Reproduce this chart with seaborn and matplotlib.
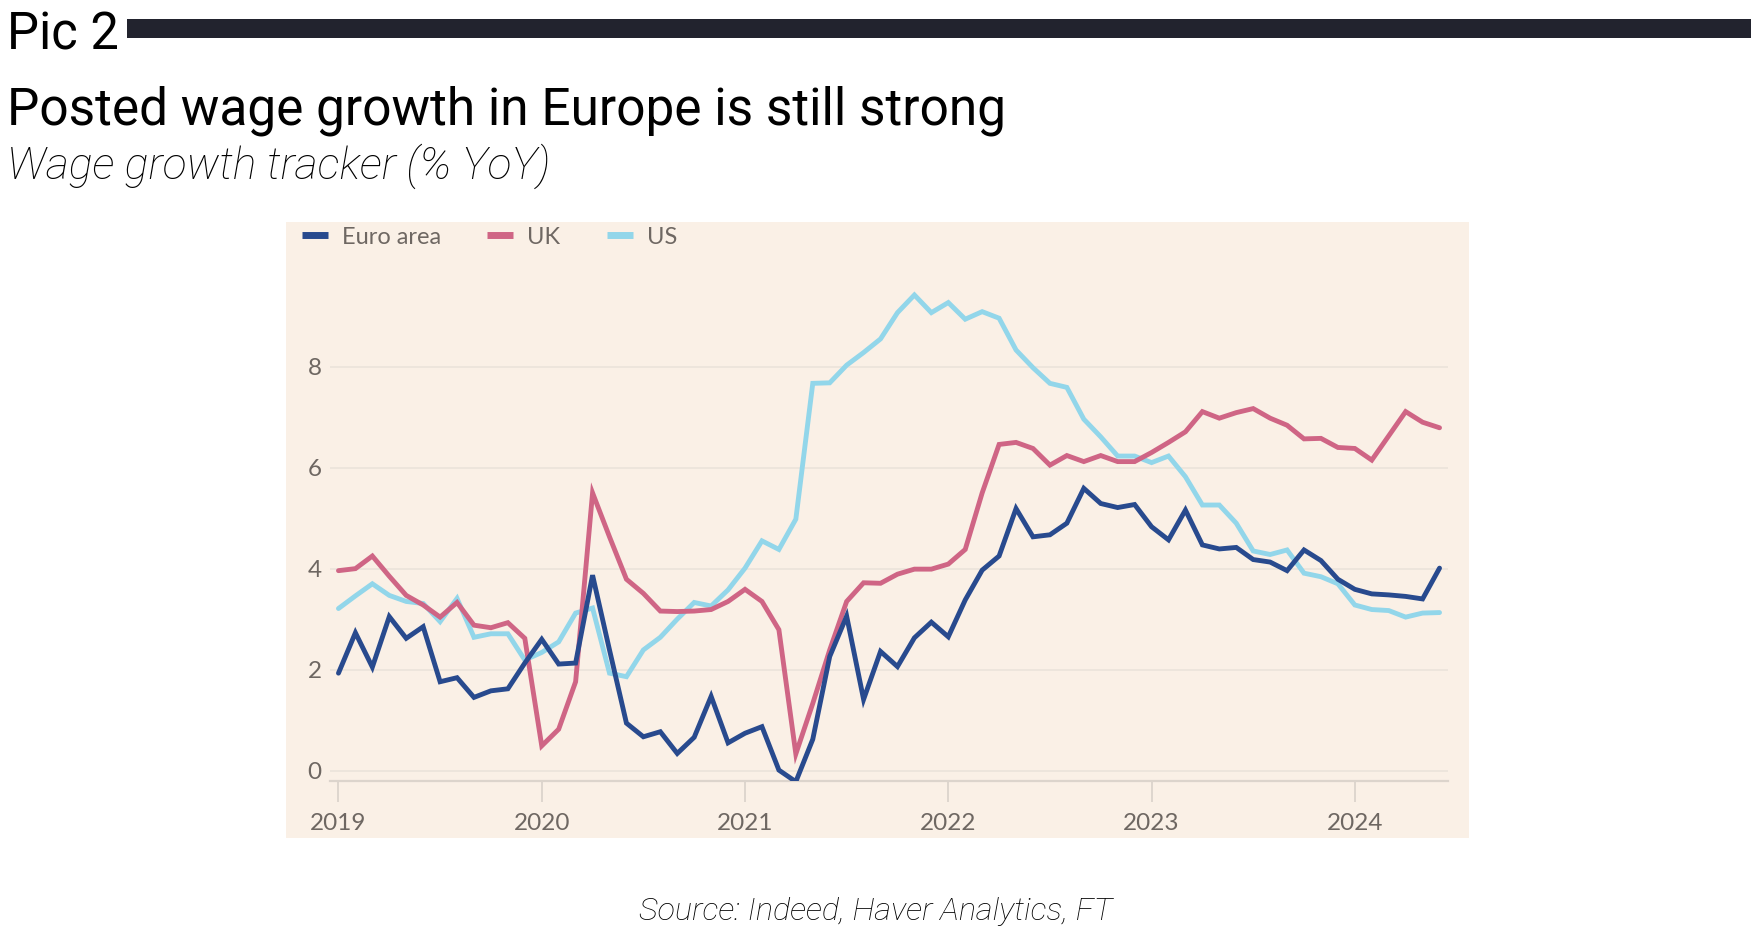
import numpy as np
import pandas as pd
import matplotlib
matplotlib.use("Agg")
import matplotlib.pyplot as plt
from matplotlib.patches import Rectangle
import seaborn as sns

# ---------------- data ----------------
start_year = 2019
n_months = 66  # Jan 2019 .. Jun 2024
year_ticks = [2019, 2020, 2021, 2022, 2023, 2024]
year_labels = ["2019", "2020", "2021", "2022", "2023", "2024"]
y_ticks = [0, 2, 4, 6, 8]
y_labels = ["0", "2", "4", "6", "8"]
series_names = ["Euro area", "UK", "US"]

euro_area = [1.93, 2.73, 2.05, 3.05, 2.62, 2.85, 1.76, 1.84, 1.45, 1.58, 1.62, 2.13,
             2.60, 2.11, 2.13, 3.87, 2.39, 0.94, 0.67, 0.77, 0.34, 0.66, 1.47, 0.55,
             0.74, 0.87, 0.01, -0.22, 0.62, 2.26, 3.06, 1.41, 2.36, 2.06, 2.63, 2.94,
             2.65, 3.38, 3.97, 4.25, 5.19, 4.63, 4.67, 4.90, 5.59, 5.29, 5.21, 5.27,
             4.83, 4.57, 5.16, 4.47, 4.39, 4.42, 4.18, 4.13, 3.96, 4.37, 4.16, 3.79,
             3.59, 3.50, 3.48, 3.45, 3.40, 4.01]
uk = [3.96, 4.00, 4.25, 3.85, 3.47, 3.28, 3.04, 3.33, 2.88, 2.83, 2.93, 2.62,
      0.49, 0.82, 1.76, 5.50, 4.63, 3.79, 3.51, 3.16, 3.15, 3.16, 3.19, 3.35,
      3.59, 3.35, 2.79, 0.33, 1.33, 2.39, 3.35, 3.72, 3.71, 3.89, 3.99, 3.99,
      4.09, 4.38, 5.50, 6.46, 6.50, 6.38, 6.05, 6.24, 6.12, 6.24, 6.12, 6.12,
      6.30, 6.50, 6.71, 7.11, 6.98, 7.09, 7.17, 6.98, 6.84, 6.57, 6.58, 6.40,
      6.38, 6.15, 6.63, 7.11, 6.90, 6.79]
us = [3.21, 3.46, 3.70, 3.47, 3.35, 3.31, 2.95, 3.41, 2.64, 2.71, 2.71, 2.19,
      2.34, 2.55, 3.12, 3.22, 1.93, 1.86, 2.39, 2.64, 3.00, 3.33, 3.26, 3.58,
      4.01, 4.55, 4.38, 4.98, 7.67, 7.68, 8.03, 8.28, 8.55, 9.07, 9.42, 9.07,
      9.27, 8.94, 9.09, 8.96, 8.33, 7.98, 7.67, 7.59, 6.96, 6.61, 6.23, 6.23,
      6.10, 6.23, 5.82, 5.26, 5.26, 4.90, 4.35, 4.28, 4.37, 3.91, 3.84, 3.70,
      3.28, 3.19, 3.17, 3.04, 3.12, 3.13]

months = np.arange(n_months)
t = start_year + months / 12.0
df = pd.DataFrame({
    "t": np.concatenate([t, t, t]),
    "value": euro_area + uk + us,
    "series": ["Euro area"] * n_months + ["UK"] * n_months + ["US"] * n_months,
})

# ---------------- style ----------------
sns.set_theme(style="white")
plt.rcParams["font.family"] = ["Roboto", "DejaVu Sans"]

W, H = 1756, 940
fig = plt.figure(figsize=(W / 100, H / 100), dpi=100)
fig.patch.set_facecolor("white")

def fx(px):
    return px / W

def fy(py):
    return 1 - py / H

# beige panel
fig.patches.append(Rectangle((fx(286), fy(838)), fx(1469) - fx(286), fy(222) - fy(838),
                             transform=fig.transFigure, facecolor="#faf0e6",
                             edgecolor="none", zorder=-1))
# header bar
fig.patches.append(Rectangle((fx(127), fy(38)), fx(1751) - fx(127), fy(19) - fy(38),
                             transform=fig.transFigure, facecolor="#22232e",
                             edgecolor="none", zorder=-1))

fig.text(fx(7), fy(50), "Pic 2", fontsize=36.5, color="black", va="baseline", ha="left")
fig.text(fx(7), fy(124), "Posted wage growth in Europe is still strong", fontsize=37,
         color="black", va="baseline", ha="left")
fig.text(fx(7), fy(179), "Wage growth tracker (% YoY)", fontsize=32, style="italic",
         fontweight="light", color="black", va="baseline", ha="left")
fig.text(fx(876), fy(920), "Source: Indeed, Haver Analytics, FT", fontsize=23.3,
         style="italic", fontweight="light", color="black", va="baseline", ha="center")

ax_left, ax_right = 330, 1448
ax_bottom, ax_top = 780.7, 250
ax = fig.add_axes([fx(ax_left), fy(ax_bottom), fx(ax_right) - fx(ax_left), fy(ax_top) - fy(ax_bottom)])
ax.set_facecolor("none")
ax.set_zorder(2)

palette = {"Euro area": "#284a8e", "UK": "#cf6585", "US": "#92d6ea"}
sns.lineplot(data=df, x="t", y="value", hue="series", hue_order=series_names,
             palette=palette, linewidth=3.5, ax=ax, legend=True)
zorders = {"Euro area": 5, "UK": 4, "US": 3}
for line, name in zip(ax.lines[:3], series_names):
    line.set_zorder(zorders[name])
    line.set_solid_joinstyle("miter")

ax.set_xlim(start_year - 0.5 / 12, start_year + 65.5 / 12)
ax.set_ylim(-0.2, (770.7 - 250) / 50.5)
ax.set_xticks(year_ticks)
ax.set_xticklabels(year_labels)
ax.set_yticks(y_ticks)
ax.set_yticklabels(y_labels)
ax.set_xlabel("")
ax.set_ylabel("")

tick_color = "#6e6762"
ax.tick_params(axis="x", length=15, width=1.3, color="#dcd4cc", pad=8,
               labelsize=17.5, labelcolor=tick_color, direction="out", bottom=True)
ax.tick_params(axis="y", length=0, pad=6, labelsize=17.5, labelcolor=tick_color, left=False)
for lab in ax.get_xticklabels() + ax.get_yticklabels():
    lab.set_fontfamily(["Lato", "DejaVu Sans"])

ax.grid(axis="y", color="#ebe3da", linewidth=1.2)
ax.grid(axis="x", visible=False)
for s in ["top", "right", "left"]:
    ax.spines[s].set_visible(False)
ax.spines["bottom"].set_color("#dcd4cc")
ax.spines["bottom"].set_linewidth(1.6)
ax.set_axisbelow(True)

sns.move_legend(ax, loc="center left", bbox_to_anchor=(fx(302), fy(237)),
                bbox_transform=fig.transFigure, ncol=3, frameon=False, title=None,
                fontsize=17, handlelength=1.1, handletextpad=0.6, columnspacing=1.95,
                borderpad=0, borderaxespad=0)
leg = ax.get_legend()
for txt in leg.get_texts():
    txt.set_color(tick_color)
    txt.set_fontfamily(["Lato", "DejaVu Sans"])
for h in leg.legend_handles:
    h.set_linewidth(5)
    h.set_solid_capstyle("butt")

fig.savefig("out.png", dpi=100, facecolor="white")
